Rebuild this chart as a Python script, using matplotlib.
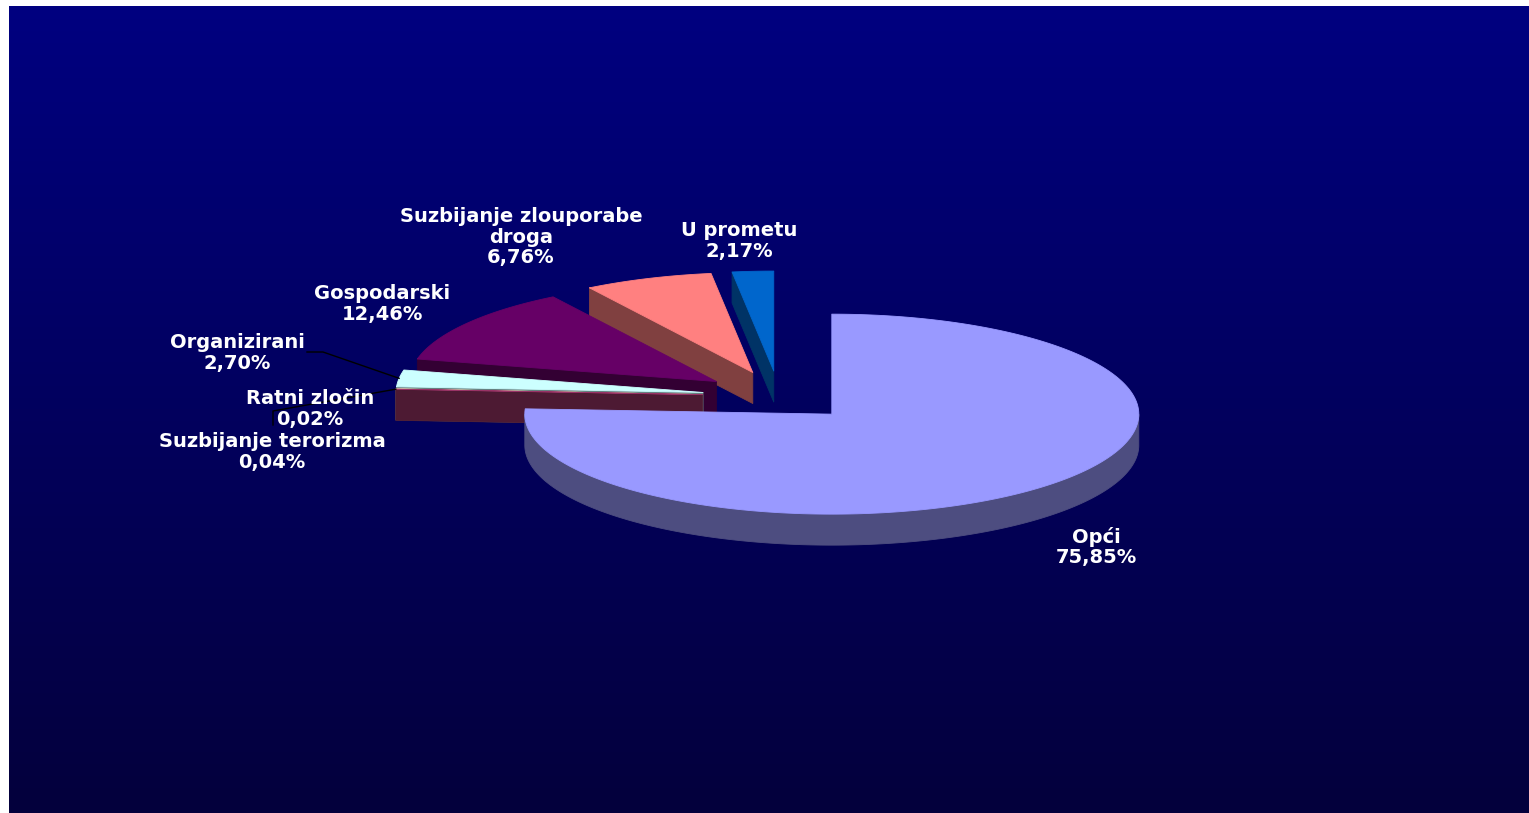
import numpy as np
import matplotlib
matplotlib.use('Agg')
import matplotlib.pyplot as plt
from matplotlib.patches import Polygon
from matplotlib.colors import to_rgb

# ---------------- data ----------------
categories = ['Opći', 'Suzbijanje terorizma', 'Ratni zločin', 'Organizirani',
              'Gospodarski', 'Suzbijanje zlouporabe\ndroga', 'U prometu']
values = [75.85, 0.04, 0.02, 2.70, 12.46, 6.76, 2.17]

# ---------------- style ----------------
colors = ['#9999FF', '#993366', '#FFFFCC', '#CCFFFF', '#660066', '#FF8080', '#0066CC']
label_pos = [(1096, 547), (272, 452), (310, 409), (237, 353),
             (382, 304), (521, 237), (739, 241)]
leader_pts = {3: [(307, 352), (323, 352)], 1: [(273, 425), (273, 411)]}

W, H = 1529, 813
fig = plt.figure(figsize=(W / 100, H / 100), dpi=100)
fig.patch.set_facecolor('white')
ax = fig.add_axes([0, 0, 1, 1])

# gradient background
top = np.array([0, 0, 128]) / 255
bot = np.array([4, 0, 60]) / 255
t = np.linspace(0, 1, 256)[:, None, None]
grad = top * (1 - t) + bot * t
ax.imshow(grad, extent=(9, W, H, 7), aspect='auto', zorder=0, interpolation='bilinear')
ax.set_xlim(0, W)
ax.set_ylim(H, 0)
ax.axis('off')

# pie geometry
cx, cy = 779, 396
a, b, depth, explode = 307, 100, 31, 0.25

fracs = np.array(values) / np.sum(values)
ends = 90 - 360 * np.cumsum(fracs)
starts = np.concatenate([[90], ends[:-1]])


def dark(c, f=0.5):
    r, g, bb = to_rgb(c)
    return (r * f, g * f, bb * f)


def pt(vx, vy, th, r=1.0):
    return (vx + a * r * np.cos(np.radians(th)), vy - b * r * np.sin(np.radians(th)))


slices = []
for i in range(len(values)):
    t1, t2 = ends[i], starts[i]
    mid = 0.5 * (t1 + t2)
    vx = cx + explode * a * np.cos(np.radians(mid))
    vy = cy - explode * b * np.sin(np.radians(mid))
    slices.append((vy, i, t1, t2, mid, vx))

z = 2
for vy, i, t1, t2, mid, vx in sorted(slices):
    col = colors[i]
    sc = dark(col)
    kw = dict(linewidth=0.6, joinstyle='round')
    # radial faces
    for th, vis in ((t1, np.cos(np.radians(t1)) > 0), (t2, np.cos(np.radians(t2)) < 0)):
        if vis:
            p = pt(vx, vy, th)
            poly = [(vx, vy), p, (p[0], p[1] + depth), (vx, vy + depth)]
            ax.add_patch(Polygon(poly, closed=True, facecolor=sc, edgecolor=sc, zorder=z, **kw))
            z += 1
    # outer curved side (front half only)
    ths = np.linspace(t1, t2, max(3, int((t2 - t1) * 4)))
    mask = np.sin(np.radians(ths)) <= 1e-9
    if mask.sum() >= 2:
        run = ths[mask]
        xs = vx + a * np.cos(np.radians(run))
        ys = vy - b * np.sin(np.radians(run))
        poly = list(zip(xs, ys)) + list(zip(xs[::-1], ys[::-1] + depth))
        ax.add_patch(Polygon(poly, closed=True, facecolor=sc, edgecolor=sc, zorder=z, **kw))
        z += 1
    # top face
    ths = np.linspace(t1, t2, max(3, int((t2 - t1) * 4)))
    xs = vx + a * np.cos(np.radians(ths))
    ys = vy - b * np.sin(np.radians(ths))
    poly = [(vx, vy)] + list(zip(xs, ys))
    ax.add_patch(Polygon(poly, closed=True, facecolor=col, edgecolor=col, zorder=z, **kw))
    z += 1

# leader lines
for i, pts in leader_pts.items():
    t1, t2 = ends[i], starts[i]
    mid = 0.5 * (t1 + t2)
    vx = cx + explode * a * np.cos(np.radians(mid))
    vy = cy - explode * b * np.sin(np.radians(mid))
    anchor = pt(vx, vy, mid)
    line = pts + [anchor]
    ax.plot([p[0] for p in line], [p[1] for p in line], color='black', lw=1.0, zorder=50)

# labels
for i, name in enumerate(categories):
    txt = f"{name}\n{format(values[i], '.2f').replace('.', ',')}%"
    ax.text(label_pos[i][0], label_pos[i][1], txt, ha='center', va='center',
            multialignment='center', color='white', fontsize=14, fontweight='bold',
            family='DejaVu Sans', zorder=60, linespacing=1.13)

fig.savefig('out.png', dpi=100, facecolor='white')
